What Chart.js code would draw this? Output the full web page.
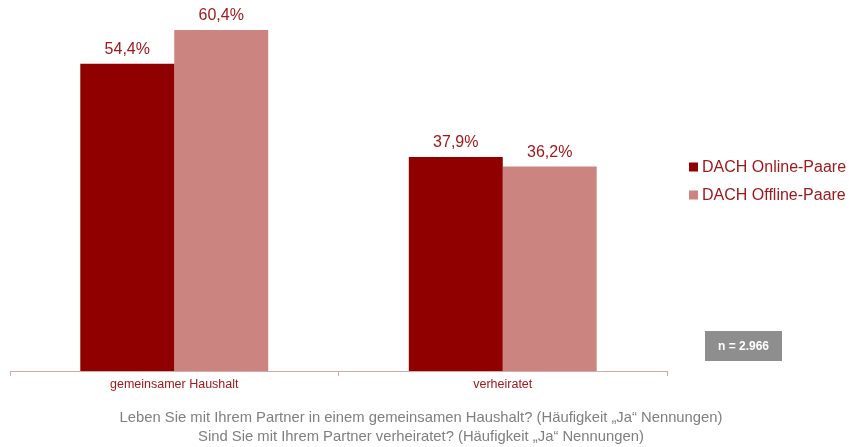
<!DOCTYPE html>
<html>
<head>
<meta charset="utf-8">
<script src="https://cdn.jsdelivr.net/npm/chart.js@4"></script>
<style>
  html, body { margin: 0; padding: 0; background: #fff; }
  #wrap { width: 849px; height: 447px; position: relative; }
</style>
</head>
<body>
<div id="wrap"><canvas id="chart"></canvas></div>
<script>
const categories = ["gemeinsamer Haushalt", "verheiratet"];
const onlineValues = [54.4, 37.9];
const offlineValues = [60.4, 36.2];
const seriesNames = ["DACH Online-Paare", "DACH Offline-Paare"];
const footerLines = [
  "Leben Sie mit Ihrem Partner in einem gemeinsamen Haushalt? (Häufigkeit \u201EJa\u201C Nennungen)",
  "Sind Sie mit Ihrem Partner verheiratet? (Häufigkeit \u201EJa\u201C Nennungen)"
];
const sampleNote = "n = 2.966";

const darkRed = "#900000";
const lightRed = "#CC8481";
const labelRed = "#A0191C";
const fontFamily = "'Liberation Sans', Arial, sans-serif";

// value labels above each bar
const valueLabels = {
  id: "valueLabels",
  afterDatasetsDraw(chart) {
    const ctx = chart.ctx;
    ctx.save();
    ctx.font = "16px " + fontFamily;
    ctx.fillStyle = labelRed;
    ctx.textAlign = "center";
    ctx.textBaseline = "bottom";
    chart.data.datasets.forEach((ds, i) => {
      chart.getDatasetMeta(i).data.forEach((bar, j) => {
        const txt = ds.data[j].toFixed(1).replace(".", ",") + "%";
        ctx.fillText(txt, bar.x, bar.y - 6);
      });
    });
    ctx.restore();
  }
};

// legend on the right, drawn by hand so it sits where the original has it
const sideLegend = {
  id: "sideLegend",
  afterDraw(chart) {
    const ctx = chart.ctx;
    ctx.save();
    ctx.font = "16px " + fontFamily;
    ctx.textBaseline = "middle";
    chart.data.datasets.forEach((ds, i) => {
      const y = 167 + i * 28;
      ctx.fillStyle = ds.backgroundColor;
      ctx.fillRect(689, y - 4.5, 9, 9);
      ctx.fillStyle = labelRed;
      ctx.fillText(ds.label, 702, y + 1);
    });
    ctx.restore();
  }
};

// question text under the chart, centred on the whole picture
const footer = {
  id: "footer",
  afterDraw(chart) {
    const ctx = chart.ctx;
    ctx.save();
    ctx.font = "14.8px " + fontFamily;
    ctx.fillStyle = "#7F7F7F";
    ctx.textAlign = "center";
    ctx.textBaseline = "middle";
    footerLines.forEach((line, i) => ctx.fillText(line, 421, 418 + i * 19));
    ctx.restore();
  }
};

// grey "n = ..." box
const sampleBox = {
  id: "sampleBox",
  afterDraw(chart) {
    const ctx = chart.ctx;
    ctx.save();
    ctx.fillStyle = "#8E8E8E";
    ctx.fillRect(705, 331, 77, 30);
    ctx.fillStyle = "#fff";
    ctx.font = "bold 12px " + fontFamily;
    ctx.textAlign = "center";
    ctx.textBaseline = "middle";
    ctx.fillText(sampleNote, 743.5, 347);
    ctx.restore();
  }
};

new Chart(document.getElementById("chart"), {
  type: "bar",
  data: {
    labels: categories,
    datasets: [
      {
        label: seriesNames[0],
        data: onlineValues,
        backgroundColor: darkRed,
      },
      {
        label: seriesNames[1],
        data: offlineValues,
        backgroundColor: lightRed,
      },
    ],
  },
  options: {
    responsive: true,
    maintainAspectRatio: false,
    animation: false,
    layout: {
      padding: { left: 10, right: 182, top: 0, bottom: 54 },
    },
    categoryPercentage: 0.572,
    barPercentage: 1,
    scales: {
      x: {
        grid: {
          drawOnChartArea: false,
          drawTicks: true,
          tickLength: 5,
          color: "#D2AAA7",
        },
        border: { display: true, color: "#D2AAA7" },
        ticks: {
          color: labelRed,
          font: { family: fontFamily, size: 12.5 },
          padding: 1,
        },
      },
      y: {
        display: false,
        min: 0,
        max: 65.7,
      },
    },
    plugins: {
      legend: { display: false },
      tooltip: { enabled: false },
    },
  },
  plugins: [valueLabels, sideLegend, footer, sampleBox],
});
</script>
</body>
</html>
